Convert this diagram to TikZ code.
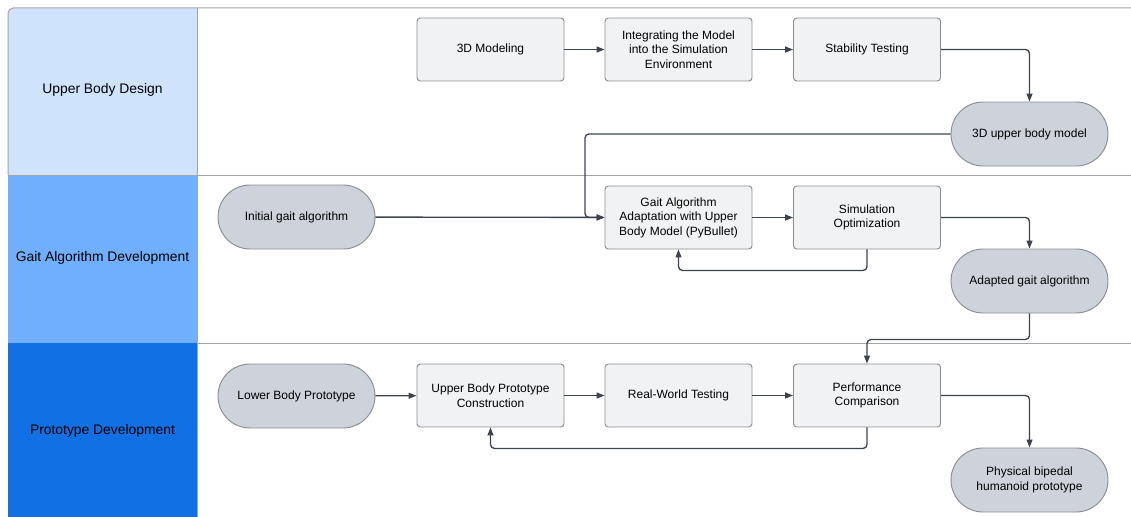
\documentclass[tikz,border=0pt]{standalone}
\usepackage{fontspec}
\setmainfont{Liberation Sans}
\usetikzlibrary{arrows.meta}
\definecolor{hone}{HTML}{CFE3FD}
\definecolor{htwo}{HTML}{70AFFD}
\definecolor{hthree}{HTML}{1170E4}
\definecolor{procfill}{HTML}{F1F2F4}
\definecolor{termfill}{HTML}{CED3DB}
\definecolor{nodeborder}{HTML}{8A8D92}
\definecolor{edgecol}{HTML}{3D4450}
\definecolor{lanecol}{HTML}{A3A5A8}
\tikzset{
  proc/.style={draw=nodeborder, fill=procfill, line width=0.7pt, rounded corners=2.5pt,
    minimum width=110.25pt, minimum height=47.25pt, align=center, inner sep=0pt,
    font=\fontsize{9}{10.9}\selectfont},
  term/.style={draw=nodeborder, fill=termfill, line width=0.7pt, rounded corners=24pt,
    minimum width=117.75pt, minimum height=48pt, align=center, inner sep=0pt,
    font=\fontsize{9}{10.9}\selectfont},
  lanelabel/.style={font=\fontsize{10.4}{12.5}\selectfont, text=black},
  lanel/.style={draw=lanecol, line width=0.75pt},
  flow/.style={draw=edgecol, line width=1pt, rounded corners=3pt,
    -{Triangle[length=6pt,width=4.5pt]}}
}
\begin{document}
\begin{tikzpicture}[x=0.75pt,y=-0.75pt]
\useasboundingbox (0,0) rectangle (1131,517);
% lane headers
\fill[hone] (8,175) [rounded corners=4] -- (8,8) [sharp corners] -- (197,8) -- (197,175) -- cycle;
\fill[htwo] (8,175) rectangle (197,343);
\fill[hthree] (8,343) rectangle (197,517);
% lane lines
\draw[lanel] (8,175) [rounded corners=4] -- (8,8) [sharp corners] -- (1131,8);
\draw[lanel] (8,175) -- (1131,175);
\draw[lanel] (197,343) -- (1131,343);
\draw[lanel] (197,8) -- (197,517);
% lane labels
\node[lanelabel] (l1) at (102.5,90) {Upper Body Design};
\node[lanelabel] (l2) at (102.5,258) {Gait Algorithm Development};
\node[lanelabel] (l3) at (102.5,431) {Prototype Development};
% nodes
\node[proc] (m3d) at (490.5,49.5) {3D Modeling};
\node[proc] (integ) at (678.5,49.5) {Integrating the Model\\into the Simulation\\Environment};
\node[proc] (stab) at (867,49.5) {Stability Testing};
\node[term] (ubm) at (1029.5,134) {3D upper body model};
\node[term] (init) at (296.5,217) {Initial gait algorithm};
\node[proc] (gaa) at (678.5,217.5) {Gait Algorithm\\Adaptation with Upper\\Body Model (PyBullet)};
\node[proc] (simopt) at (867,217.5) {Simulation\\Optimization};
\node[term] (adapt) at (1029.5,281) {Adapted gait algorithm};
\node[term] (lbp) at (296.5,396) {Lower Body Prototype};
\node[proc] (ubpc) at (490.5,395.5) {Upper Body Prototype\\Construction};
\node[proc] (rwt) at (678.5,395.5) {Real-World Testing};
\node[proc] (perf) at (867,395.5) {Performance\\Comparison};
\node[term] (phys) at (1029.5,480) {Physical bipedal\\humanoid prototype};
% connectors
\coordinate (j1) at (585,134);
\draw[flow] (m3d) -- (integ);
\draw[flow] (integ) -- (stab);
\draw[flow] (stab.east) -| (ubm.north);
\draw[flow] (ubm.west) -- (j1) |- (gaa.west);
\draw[flow] (init) -- (gaa);
\draw[flow] (gaa) -- (simopt);
\draw[flow] (simopt.east) -| (adapt.north);
\draw[flow] (simopt.south) -- ++(0,21) -| (gaa.south);
\draw[flow] (adapt.south) -- ++(0,26) -| (perf.north);
\draw[flow] (lbp) -- (ubpc);
\draw[flow] (ubpc) -- (rwt);
\draw[flow] (rwt) -- (perf);
\draw[flow] (perf.east) -| (phys.north);
\draw[flow] (perf.south) -- ++(0,21) -| (ubpc.south);
\end{tikzpicture}
\end{document}
